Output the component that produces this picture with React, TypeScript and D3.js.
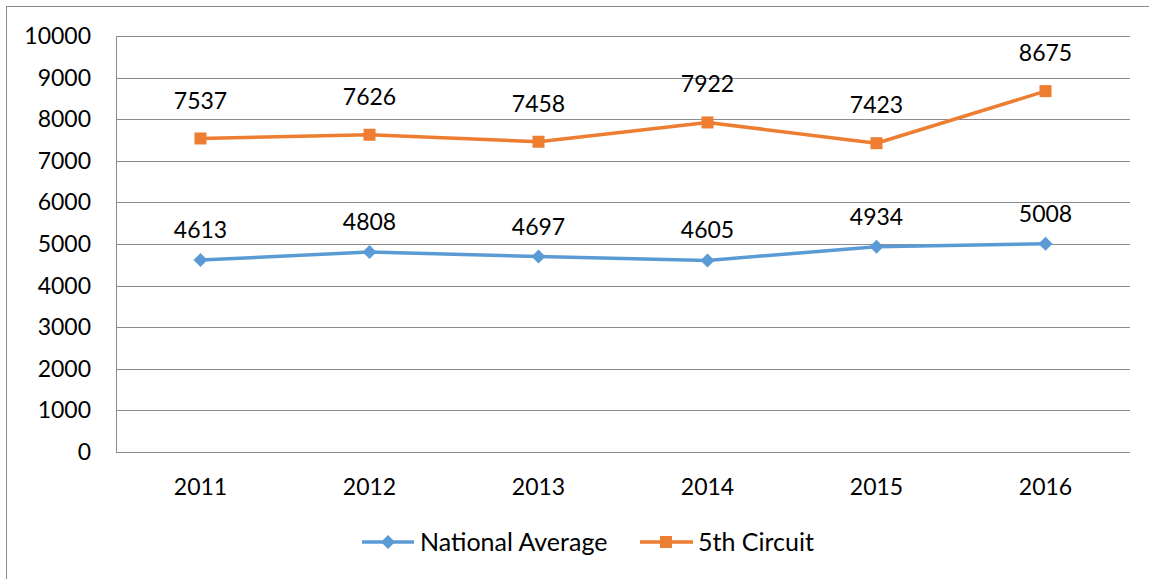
import React from "react";
import * as d3 from "d3";

const years = ["2011", "2012", "2013", "2014", "2015", "2016"];
const nationalAverage = [4613, 4808, 4697, 4605, 4934, 5008];
const fifthCircuit = [7537, 7626, 7458, 7922, 7423, 8675];
const yTicks = [0, 1000, 2000, 3000, 4000, 5000, 6000, 7000, 8000, 9000, 10000];

const W = 1149;
const H = 579;
const FONT = "Lato, 'Open Sans', sans-serif";

export default function App() {
  const x = d3.scaleBand<string>().domain(years).range([116, 1130]);
  const y = d3.scaleLinear().domain([0, 10000]).range([452, 36]);
  const cx = (d: string) => (x(d) as number) + x.bandwidth() / 2;
  const line = d3
    .line<number>()
    .x((_, i) => cx(years[i]))
    .y((v) => y(v));

  const blue = "#5B9BD5";
  const orange = "#ED7D31";
  const diamond = (px: number, py: number, r: number) =>
    `M${px},${py - r}L${px + r},${py}L${px},${py + r}L${px - r},${py}Z`;

  return (
    <div style={{ position: "fixed", left: 0, top: 0 }}>
      <svg width={W} height={H} style={{ display: "block", background: "#fff" }}>
        <rect x={6.5} y={6.5} width={W + 10} height={H + 10} fill="#fff" stroke="#8c8c8c" strokeWidth={1} />
        {yTicks.map((t) => (
          <g key={t}>
            <line x1={116} x2={1130} y1={Math.round(y(t)) + 0.5} y2={Math.round(y(t)) + 0.5} stroke="#8c8c8c" strokeWidth={1} />
            <text x={91} y={y(t)} dy="0.35em" textAnchor="end" fontFamily={FONT} fontSize={23} fill="#000">
              {t}
            </text>
          </g>
        ))}
        <line x1={116.5} x2={116.5} y1={36} y2={452} stroke="#8c8c8c" strokeWidth={1} />
        {years.map((yr) => (
          <text key={yr} x={cx(yr)} y={487} dy="0.35em" textAnchor="middle" fontFamily={FONT} fontSize={23} fill="#000">
            {yr}
          </text>
        ))}
        <path d={line(nationalAverage) || ""} fill="none" stroke={blue} strokeWidth={3.5} strokeLinejoin="round" />
        <path d={line(fifthCircuit) || ""} fill="none" stroke={orange} strokeWidth={3.5} strokeLinejoin="round" />
        {nationalAverage.map((v, i) => (
          <g key={"n" + i}>
            <path d={diamond(cx(years[i]), y(v), 7)} fill={blue} />
            <text x={cx(years[i])} y={y(v) - 30} dy="0.35em" textAnchor="middle" fontFamily={FONT} fontSize={23} fill="#000">
              {v}
            </text>
          </g>
        ))}
        {fifthCircuit.map((v, i) => (
          <g key={"f" + i}>
            <rect x={cx(years[i]) - 6} y={y(v) - 6} width={12} height={12} fill={orange} />
            <text x={cx(years[i])} y={y(v) - 38} dy="0.35em" textAnchor="middle" fontFamily={FONT} fontSize={23} fill="#000">
              {v}
            </text>
          </g>
        ))}
        <g>
          <line x1={362} x2={414} y1={542} y2={542} stroke={blue} strokeWidth={3.5} />
          <path d={diamond(388, 542, 7)} fill={blue} />
          <text x={420} y={542} dy="0.35em" fontFamily={FONT} fontSize={25} fill="#000">
            National Average
          </text>
          <line x1={640} x2={693} y1={542} y2={542} stroke={orange} strokeWidth={3.5} />
          <rect x={660} y={536} width={12} height={12} fill={orange} />
          <text x={698} y={542} dy="0.35em" fontFamily={FONT} fontSize={25} fill="#000">
            5th Circuit
          </text>
        </g>
      </svg>
    </div>
  );
}
